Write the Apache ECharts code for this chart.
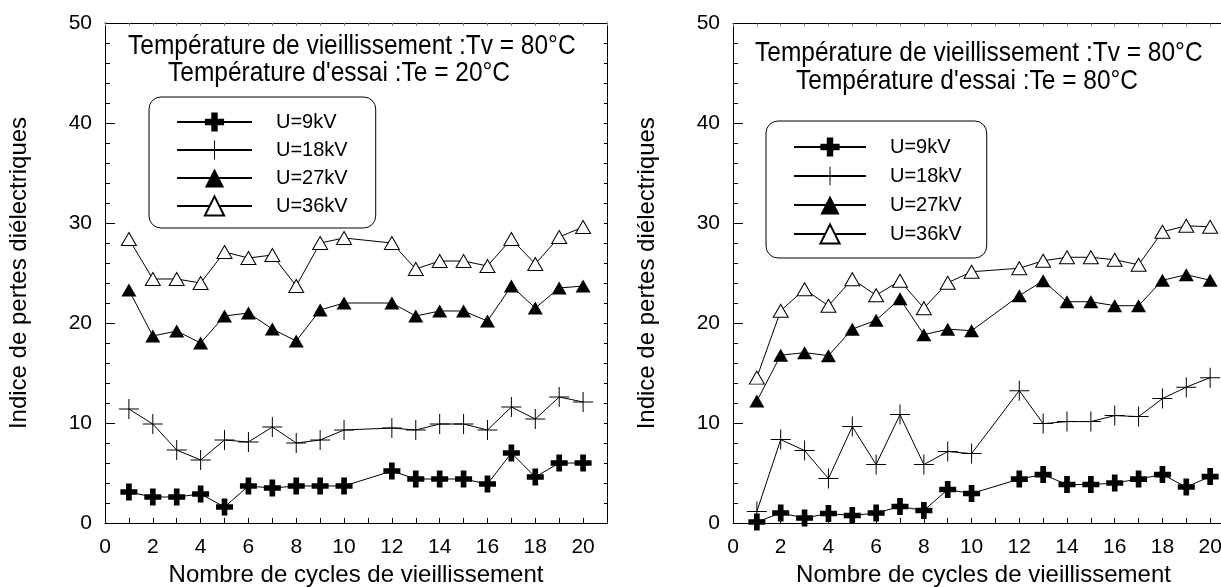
<!DOCTYPE html>
<html>
<head>
<meta charset="utf-8">
<script src="https://cdn.jsdelivr.net/npm/echarts@6/dist/echarts.min.js"></script>
<style>
  html, body { margin: 0; padding: 0; background: #fff; }
  #chart { width: 1221px; height: 587px; }
</style>
</head>
<body>
<div id="chart"></div>
<script>
// cycles (no measure at 11)
var cycles = [1, 2, 3, 4, 5, 6, 7, 8, 9, 10, 12, 13, 14, 15, 16, 17, 18, 19, 20];
var seriesNames = ['U=9kV', 'U=18kV', 'U=27kV', 'U=36kV'];

// left panel : Te = 20°C
var u9Te20 = [3.1, 2.6, 2.6, 2.9, 1.6, 3.7, 3.5, 3.7, 3.7, 3.7, 5.2, 4.4, 4.4, 4.4, 3.9, 7.0, 4.6, 6.0, 6.0];
var u18Te20 = [11.4, 9.9, 7.3, 6.3, 8.3, 8.1, 9.6, 8.0, 8.3, 9.3, 9.5, 9.3, 9.9, 9.9, 9.3, 11.6, 10.4, 12.6, 12.1];
var u27Te20 = [23.3, 18.7, 19.2, 18.0, 20.7, 21.0, 19.4, 18.2, 21.3, 22.0, 22.0, 20.7, 21.2, 21.2, 20.2, 23.7, 21.5, 23.5, 23.7];
var u36Te20 = [28.4, 24.4, 24.4, 24.0, 27.1, 26.5, 26.8, 23.7, 28.0, 28.5, 28.0, 25.4, 26.2, 26.2, 25.7, 28.4, 25.9, 28.6, 29.6];

// right panel : Te = 80°C
var u9Te80 = [0.1, 1.0, 0.5, 0.95, 0.75, 1.0, 1.65, 1.25, 3.35, 2.95, 4.4, 4.85, 3.85, 3.85, 4.0, 4.4, 4.85, 3.6, 4.65];
var u18Te80 = [1.15, 8.35, 7.25, 4.45, 9.65, 5.85, 10.85, 5.85, 7.15, 6.95, 13.25, 9.95, 10.15, 10.15, 10.75, 10.65, 12.45, 13.6, 14.55];
var u27Te80 = [12.2, 16.8, 17.05, 16.75, 19.4, 20.3, 22.45, 18.85, 19.4, 19.25, 22.75, 24.25, 22.15, 22.15, 21.75, 21.75, 24.3, 24.85, 24.3];
var u36Te80 = [14.55, 21.25, 23.4, 21.75, 24.4, 22.8, 24.25, 21.5, 24.05, 25.15, 25.5, 26.25, 26.6, 26.6, 26.35, 25.85, 29.15, 29.75, 29.65];

var FONT = '"Liberation Sans", Arial, sans-serif';

var boldPlus = 'path://M5,0H10V5H15V10H10V15H5V10H0V5H5Z';
var thinPlus = 'path://M9.5,0H10.5V9.5H20V10.5H10.5V20H9.5V10.5H0V9.5H9.5Z';

var markers = [
    { symbol: boldPlus, size: 17, itemStyle: { color: '#000' } },
    { symbol: thinPlus, size: 20, itemStyle: { color: '#000' } },
    { symbol: 'triangle', size: [15, 13], itemStyle: { color: '#000' } },
    { symbol: 'triangle', size: [15, 13], itemStyle: { color: '#fff', borderColor: '#000', borderWidth: 1 } }
];

function pairs(vals) {
    return cycles.map(function(c, i) { return [c, vals[i]]; });
}

function makeSeries(panel, valueSets) {
    return valueSets.map(function(vals, i) {
        return {
            name: seriesNames[i],
            type: 'line',
            xAxisIndex: panel * 2,
            yAxisIndex: panel * 3,
            data: pairs(vals),
            symbol: markers[i].symbol,
            symbolSize: markers[i].size,
            showAllSymbol: true,
            itemStyle: markers[i].itemStyle,
            lineStyle: { color: '#000', width: 1 },
            z: 3 + i
        };
    });
}

var axisLine = { show: true, onZero: false, lineStyle: { color: '#000', width: 1 } };

function bottomX(grid) {
    return {
        type: 'value', gridIndex: grid, min: 0, max: 21, interval: 1,
        name: 'Nombre de cycles de vieillissement',
        nameLocation: 'middle', nameGap: 38,
        nameTextStyle: { fontFamily: FONT, fontSize: 24, color: '#000' },
        axisLine: axisLine,
        axisTick: { inside: true, length: 5, lineStyle: { color: '#000' } },
        axisLabel: {
            fontFamily: FONT, fontSize: 21, color: '#000', margin: 14, showMaxLabel: false,
            formatter: function(v) { return (v % 2 === 0 && v <= 20) ? String(v) : ''; }
        },
        splitLine: { show: false }
    };
}

function topX(grid) {
    return {
        type: 'value', gridIndex: grid, position: 'top', min: 0, max: 21, interval: 1,
        axisLine: axisLine,
        axisTick: { inside: true, length: 3, lineStyle: { color: '#888' } },
        axisLabel: { show: false },
        splitLine: { show: false }
    };
}

function leftY(grid) {
    return {
        type: 'value', gridIndex: grid, position: 'left', min: 0, max: 50, interval: 10,
        name: 'Indice de pertes diélectriques',
        nameLocation: 'middle', nameGap: 74, nameRotate: 90,
        nameTextStyle: { fontFamily: FONT, fontSize: 24, color: '#000' },
        axisLine: axisLine,
        axisTick: { inside: true, length: 10, lineStyle: { color: '#000' } },
        axisLabel: { fontFamily: FONT, fontSize: 21, color: '#000', margin: 13 },
        splitLine: { show: false }
    };
}

// small inner ticks every 2 units on one side
function tickY(grid, side, len) {
    return {
        type: 'value', gridIndex: grid, position: side, min: 0, max: 50, interval: 2,
        axisLine: axisLine,
        axisTick: { inside: true, length: len, lineStyle: { color: '#000' } },
        axisLabel: { show: false },
        splitLine: { show: false }
    };
}

function legendBox(left, top, itemWidth, itemGap, padding) {
    return {
        orient: 'vertical', left: left, top: top,
        data: seriesNames, selectedMode: false,
        itemWidth: itemWidth, itemHeight: 24, itemGap: itemGap,
        padding: padding,
        borderColor: '#000', borderWidth: 1, borderRadius: 12,
        backgroundColor: '#fff',
        textStyle: { fontFamily: FONT, fontSize: 20, lineHeight: 24, color: '#000', padding: [0, 0, 0, 19] }
    };
}

function note(x, y, text) {
    return {
        type: 'text', x: x, y: y, scaleY: 1.12,
        style: { text: text, font: '24.5px ' + FONT, fill: '#000', textVerticalAlign: 'middle' }
    };
}

var chart = echarts.init(document.getElementById('chart'));
chart.setOption({
    animation: false,
    backgroundColor: '#fff',
    grid: [
        { left: 105, top: 23, width: 502, height: 500, outerBoundsMode: 'none' },
        { left: 733, top: 23.5, width: 501, height: 499.5, outerBoundsMode: 'none' }
    ],
    xAxis: [bottomX(0), topX(0), bottomX(1), topX(1)],
    yAxis: [
        leftY(0), tickY(0, 'left', 5), tickY(0, 'right', 3),
        leftY(1), tickY(1, 'left', 5), tickY(1, 'right', 3)
    ],
    legend: [
        legendBox(149, 97, 75, 4, [13, 28, 10, 27]),
        legendBox(766, 121, 72, 5, [14, 25, 12, 27])
    ],
    graphic: [
        note(128, 46, 'Température de vieillissement :Tv = 80°C'),
        note(168, 73, "Température d'essai :Te = 20°C"),
        note(755, 53, 'Température de vieillissement :Tv = 80°C'),
        note(796, 81, "Température d'essai :Te = 80°C")
    ],
    series: makeSeries(0, [u9Te20, u18Te20, u27Te20, u36Te20])
        .concat(makeSeries(1, [u9Te80, u18Te80, u27Te80, u36Te80]))
});
</script>
</body>
</html>
